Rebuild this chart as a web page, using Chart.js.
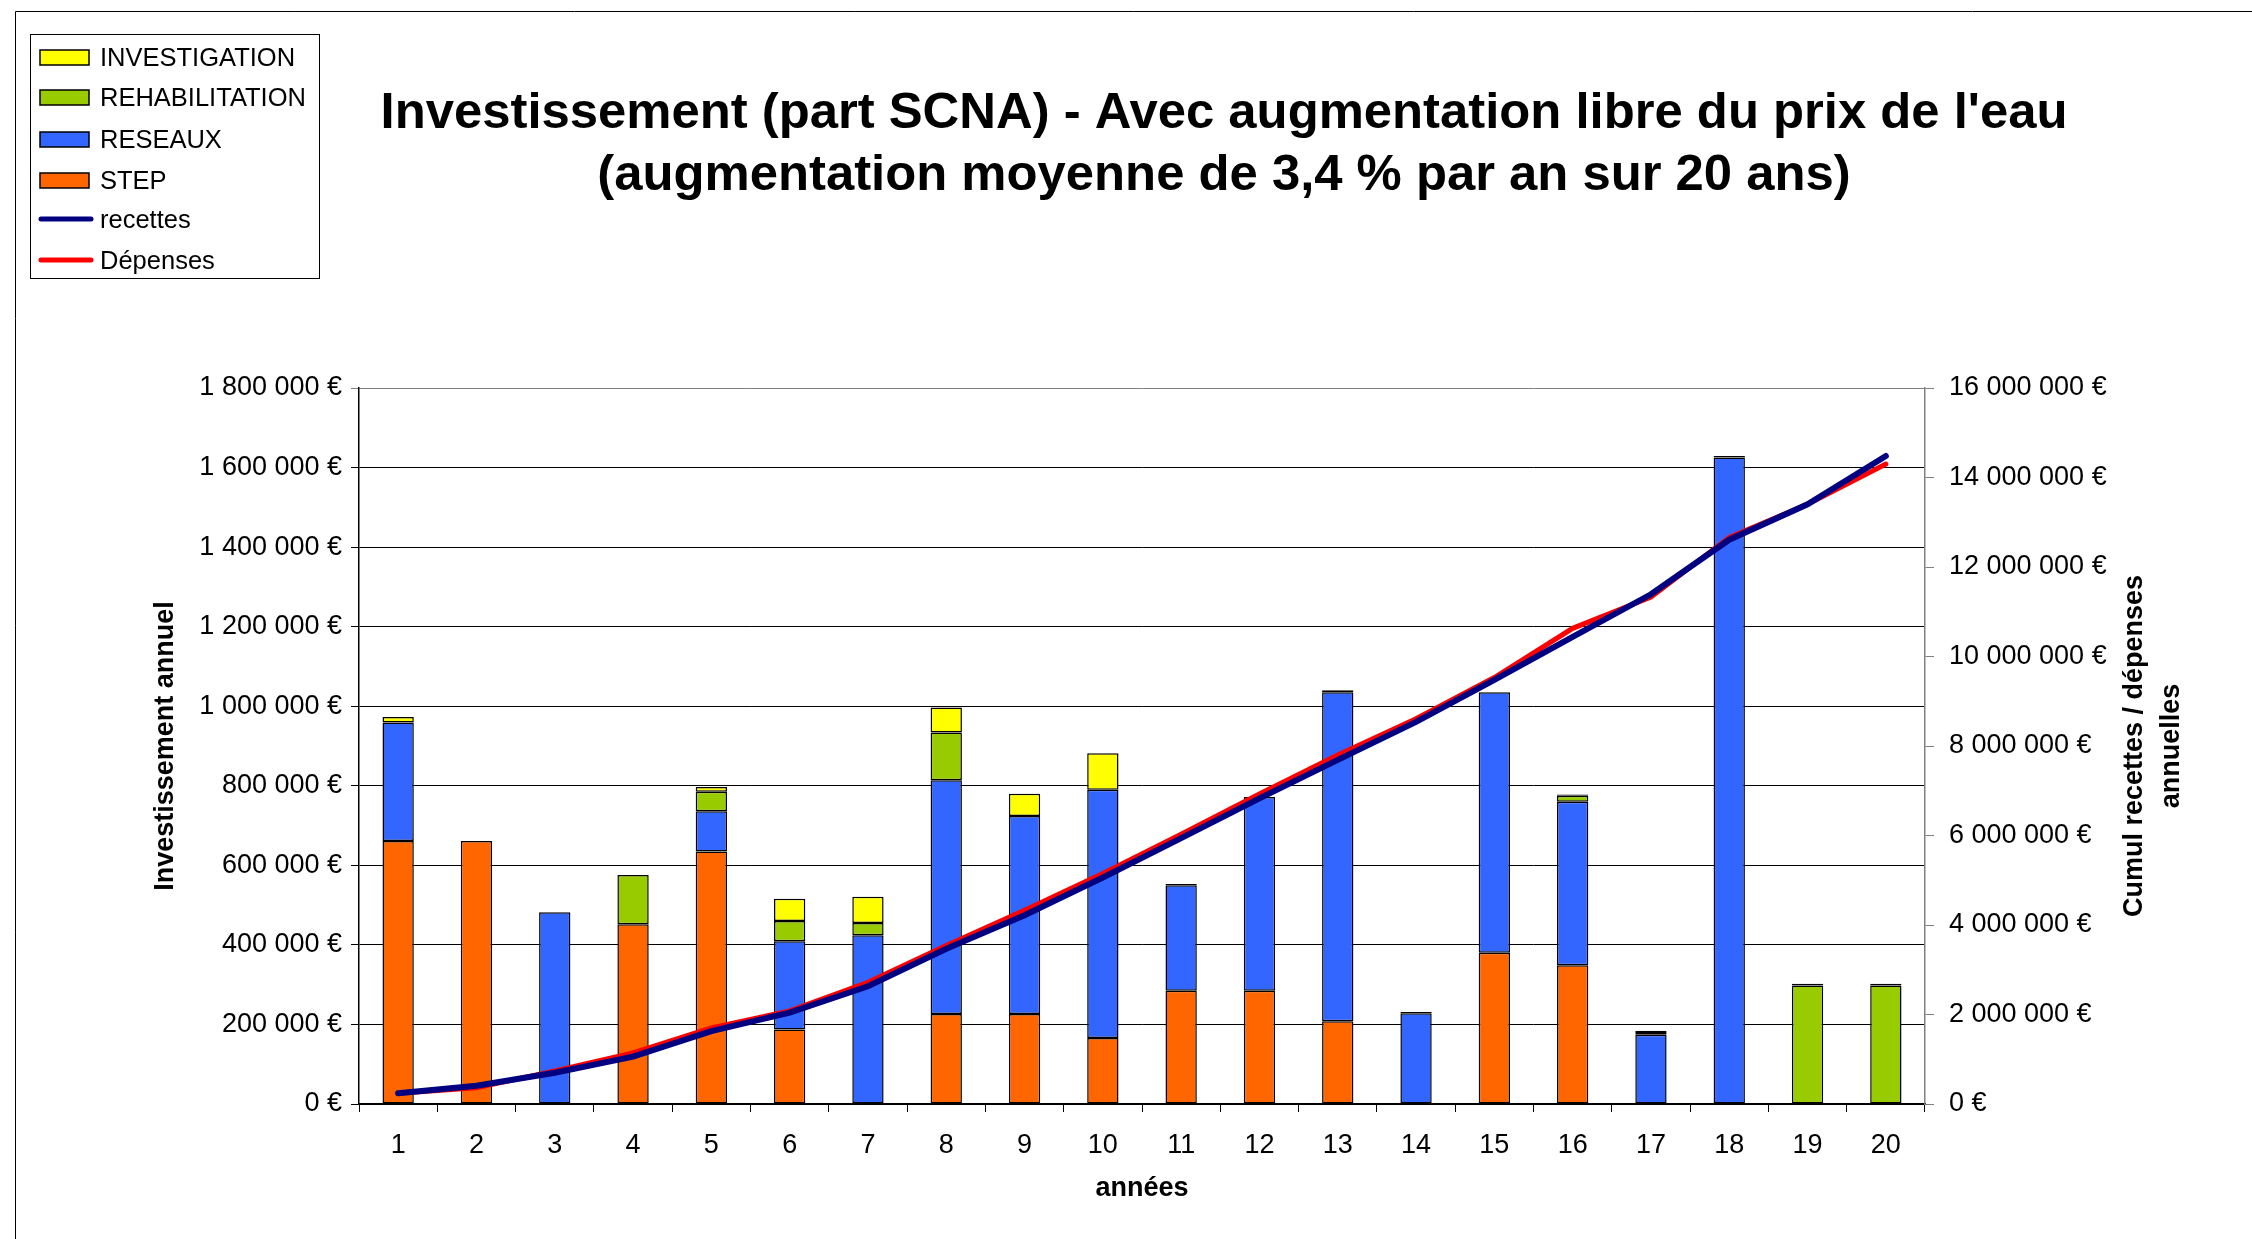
<!DOCTYPE html>
<html lang="fr">
<head>
<meta charset="utf-8">
<title>Investissement (part SCNA)</title>
<script src="https://cdn.jsdelivr.net/npm/chart.js@4"></script>
<style>
  html, body { margin: 0; padding: 0; background: #fff; overflow: hidden; }
  canvas { display: block; }
</style>
</head>
<body>
<canvas id="invChart" width="2252" height="1239"></canvas>
<script>
// années 1 à 20
const years = ['1', '2', '3', '4', '5', '6', '7', '8', '9', '10',
  '11', '12', '13', '14', '15', '16', '17', '18', '19', '20'];

// investissement annuel par poste (€)
const step = [661000, 661000, 0, 452000, 635000, 187000, 0, 226000, 226000, 166000,
  285000, 285000, 208000, 0, 380000, 349000, 0, 0, 0, 0];
const reseaux = [298000, 0, 482000, 0, 101000, 222000, 424000, 588000, 498000, 624000,
  265000, 487000, 827000, 228000, 655000, 411000, 174000, 1625000, 0, 0];
const rehabilitation = [0, 0, 0, 124000, 49000, 51000, 31000, 120000, 0, 0,
  0, 0, 0, 0, 0, 15000, 7000, 0, 298000, 298000];
const investigation = [14000, 0, 0, 0, 12000, 56000, 66000, 63000, 56000, 92000,
  3000, 0, 5000, 3000, 0, 3000, 3000, 4000, 4000, 4000];

// cumuls (€)
const recettes = [240000, 410000, 700000, 1060000, 1630000, 2040000, 2630000, 3470000, 4220000, 5060000,
  5940000, 6830000, 7690000, 8540000, 9480000, 10440000, 11390000, 12610000, 13400000, 14480000];
const depenses = [240000, 360000, 740000, 1140000, 1700000, 2080000, 2720000, 3540000, 4330000, 5150000,
  6030000, 6930000, 7800000, 8610000, 9530000, 10630000, 11330000, 12660000, 13400000, 14300000];

const titleLines = [
  "Investissement (part SCNA) - Avec augmentation libre du prix de l'eau",
  '(augmentation moyenne de 3,4 % par an sur 20 ans)'
];
const rightAxisTitle = ['Cumul recettes / dépenses', 'annuelles'];
const legendOrder = ['INVESTIGATION', 'REHABILITATION', 'RESEAUX', 'STEP', 'recettes', 'Dépenses'];

const FONT = '"Liberation Sans", Arial, Helvetica, sans-serif';
Chart.defaults.font.family = FONT;
Chart.defaults.color = '#000';

const euro = v => String(v).replace(/\B(?=(\d{3})+(?!\d))/g, ' ') + ' €';

// titre, légende encadrée, titre de l'axe de droite et cadre
const decorations = {
  id: 'decorations',
  afterDraw(chart) {
    const ctx = chart.ctx;
    const area = chart.chartArea;
    ctx.save();

    ctx.strokeStyle = '#000';
    ctx.lineWidth = 1;
    ctx.beginPath();
    ctx.moveTo(15.5, chart.height);
    ctx.lineTo(15.5, 11.5);
    ctx.lineTo(chart.width, 11.5);
    ctx.stroke();

    ctx.fillStyle = '#000';
    ctx.font = 'bold 50.8px ' + FONT;
    ctx.textAlign = 'center';
    ctx.textBaseline = 'alphabetic';
    titleLines.forEach((t, i) => ctx.fillText(t, 1224, 128 + i * 62));

    // légende
    ctx.fillStyle = '#fff';
    ctx.fillRect(30, 34, 289, 244);
    ctx.strokeStyle = '#000';
    ctx.lineWidth = 1;
    ctx.strokeRect(30.5, 34.5, 289, 244);
    ctx.font = '25.5px ' + FONT;
    ctx.textAlign = 'left';
    ctx.textBaseline = 'middle';
    const rows = [57, 97, 139, 180, 219, 260];
    legendOrder.forEach((name, i) => {
      const ds = chart.data.datasets.find(d => d.label === name);
      const y = rows[i];
      if (ds.type === 'line') {
        ctx.strokeStyle = ds.borderColor;
        ctx.lineWidth = 5;
        ctx.lineCap = 'round';
        ctx.beginPath();
        ctx.moveTo(41, y);
        ctx.lineTo(91, y);
        ctx.stroke();
      } else {
        ctx.fillStyle = ds.backgroundColor;
        ctx.fillRect(40, y - 7, 49, 15);
        ctx.strokeStyle = '#000';
        ctx.lineWidth = 1.5;
        ctx.strokeRect(40, y - 7, 49, 15);
      }
      ctx.fillStyle = '#000';
      ctx.fillText(name, 100, y + 2);
    });

    // titre de l'axe de droite, lu de bas en haut
    ctx.translate(2135, (area.top + area.bottom) / 2);
    ctx.rotate(-Math.PI / 2);
    ctx.font = 'bold 27px ' + FONT;
    ctx.textAlign = 'center';
    ctx.textBaseline = 'middle';
    rightAxisTitle.forEach((t, i) => ctx.fillText(t, 0, i * 37));
    ctx.restore();
  }
};

const barStyle = {
  type: 'bar',
  yAxisID: 'y',
  stack: 'inv',
  borderColor: '#000',
  borderWidth: 1.5,
  borderSkipped: false,
  barPercentage: 0.4,
  categoryPercentage: 1,
  order: 2
};

new Chart(document.getElementById('invChart'), {
  data: {
    labels: years,
    datasets: [
      { ...barStyle, label: 'STEP', data: step, backgroundColor: '#FF6600' },
      { ...barStyle, label: 'RESEAUX', data: reseaux, backgroundColor: '#3366FF' },
      { ...barStyle, label: 'REHABILITATION', data: rehabilitation, backgroundColor: '#99CC00' },
      { ...barStyle, label: 'INVESTIGATION', data: investigation, backgroundColor: '#FFFF00' },
      {
        type: 'line', label: 'recettes', data: recettes, yAxisID: 'y1', stack: 'rec',
        borderColor: '#000080', borderWidth: 6, pointRadius: 0, tension: 0,
        borderCapStyle: 'round', fill: false, order: 0
      },
      {
        type: 'line', label: 'Dépenses', data: depenses, yAxisID: 'y1', stack: 'dep',
        borderColor: '#FF0000', borderWidth: 5, pointRadius: 0, tension: 0,
        borderCapStyle: 'round', fill: false, order: 1
      }
    ]
  },
  options: {
    responsive: false,
    animation: false,
    devicePixelRatio: 1,
    layout: { padding: { top: 388, left: 0, right: 0, bottom: 0 } },
    plugins: {
      legend: { display: false },
      title: { display: false },
      tooltip: { enabled: false }
    },
    scales: {
      x: {
        stacked: true,
        grid: { offset: true, drawOnChartArea: false, tickLength: 8, color: '#000' },
        border: { color: '#000', width: 1.5 },
        ticks: { font: { size: 27 }, padding: 17, maxRotation: 0, autoSkip: false },
        title: { display: true, text: 'années', font: { size: 27, weight: 'bold' }, padding: { bottom: 34 } },
        afterFit: s => { s.height = 135; }
      },
      y: {
        position: 'left',
        stacked: true,
        min: 0,
        max: 1800000,
        ticks: { stepSize: 200000, font: { size: 27 }, padding: 9, callback: v => euro(v) },
        grid: {
          tickLength: 8,
          lineWidth: 1,
          color: c => (c.tick && c.tick.value === 1800000 ? '#808080' : '#000')
        },
        border: { color: '#000', width: 1.5 },
        title: { display: true, text: 'Investissement annuel', font: { size: 27, weight: 'bold' }, padding: { top: 149 } },
        afterFit: s => { s.width = 359; }
      },
      y1: {
        position: 'right',
        stacked: false,
        min: 0,
        max: 16000000,
        ticks: { stepSize: 2000000, font: { size: 27 }, padding: 15, callback: v => euro(v) },
        grid: { drawOnChartArea: false, tickLength: 9, color: '#808080' },
        border: { color: '#808080', width: 1.5 },
        afterFit: s => { s.width = 327; }
      }
    }
  },
  plugins: [decorations]
});
</script>
</body>
</html>
